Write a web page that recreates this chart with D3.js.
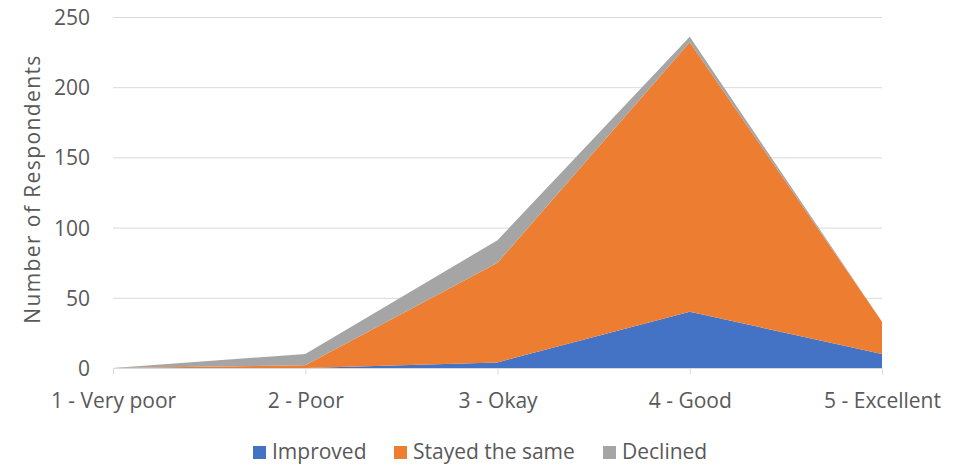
<!DOCTYPE html>
<html><head><meta charset="utf-8">
<script src="https://cdn.jsdelivr.net/npm/d3@7"></script>
<style>body{margin:0;background:#fff}svg{display:block;font-family:"Open Sans",sans-serif}</style>
</head><body><svg id="c" width="972" height="464"></svg>
<script>
const categories = ["1 - Very poor","2 - Poor","3 - Okay","4 - Good","5 - Excellent"];
const improved = [0, 0, 4, 40, 10];
const stayedSame = [0, 2, 71, 192, 23];
const declined = [0, 8, 16, 4, 0];
const seriesNames = ["Improved","Stayed the same","Declined"];
const colors = ["#4472C4","#ED7D31","#A5A5A5"];
const yTicks = [0,50,100,150,200,250];

const svg = d3.select("#c");
const x = d3.scalePoint().domain(categories).range([113, 882]);
const y = d3.scaleLinear().domain([0,250]).range([368, 17]);

const rows = categories.map((c,i)=>({cat:c, Improved:improved[i], "Stayed the same":stayedSame[i], Declined:declined[i]}));
const stack = d3.stack().keys(seriesNames)(rows);

// grid
svg.append("g").selectAll("line").data(yTicks.filter(d=>d>0)).join("line")
  .attr("x1",113).attr("x2",882).attr("y1",d=>y(d)+0.5).attr("y2",d=>y(d)+0.5)
  .attr("stroke","#D9D9D9").attr("stroke-width",1);

const area = d3.area().x(d=>x(d.data.cat)).y0(d=>y(d[0])).y1(d=>y(d[1]));
svg.append("g").selectAll("path").data(stack).join("path")
  .attr("d",area).attr("fill",(d,i)=>colors[i]);

// x axis
const xa = svg.append("g").attr("transform","translate(0,368.5)")
  .call(d3.axisBottom(x).tickSize(6).tickPadding(0));
xa.select(".domain").attr("stroke","#D9D9D9").attr("d","M113,0H882");
xa.selectAll(".tick line").attr("stroke","#D9D9D9");
xa.selectAll("text").attr("fill","#595959").attr("font-size",21)
  .attr("font-family","'Open Sans',sans-serif")
  .attr("y",39).attr("dy",null);

// y axis
const ya = svg.append("g").attr("transform","translate(90,0)")
  .call(d3.axisLeft(y).tickValues(yTicks).tickSize(0).tickPadding(0));
ya.select(".domain").remove();
ya.selectAll("text").attr("fill","#595959").attr("font-size",21)
  .attr("font-family","'Open Sans',sans-serif").attr("dy","0.36em");

svg.append("text").attr("transform","translate(40,189) rotate(-90)")
  .attr("text-anchor","middle").attr("fill","#595959").attr("font-size",21)
  .attr("letter-spacing",1.4)
  .text("Number of Respondents");

// legend
const legX = [253, 394, 603];
const lg = svg.append("g").selectAll("g").data(seriesNames).join("g")
  .attr("transform",(d,i)=>`translate(${legX[i]},446)`);
lg.append("rect").attr("width",13).attr("height",13).attr("y",0).attr("fill",(d,i)=>colors[i]);
lg.append("text").attr("x",19).attr("y",13).attr("fill","#595959").attr("font-size",21)
  .text(d=>d);
</script></body></html>
